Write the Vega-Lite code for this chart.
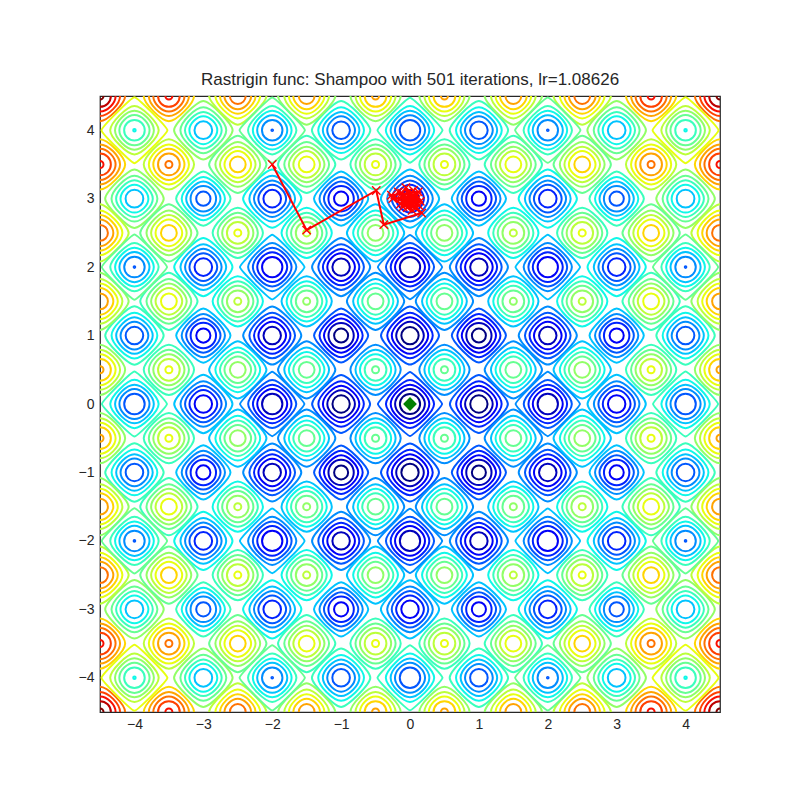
{
"$schema": "https://vega.github.io/schema/vega-lite/v6.json",
"width": 620,
"height": 616,
"autosize": {"type": "none"},
"padding": {"left": 100, "top": 96, "right": 80, "bottom": 88},
"background": "white",
"title": {"text": "Rastrigin func: Shampoo with 501 iterations, lr=1.08626", "font": "Liberation Sans", "fontSize": 17, "fontWeight": "normal", "color": "#262626", "offset": 7, "anchor": "middle"},
"config": {"view": {"stroke": "#262626", "strokeWidth": 1.25}, "font": "Liberation Sans"},
"datasets": {
"rings": [
{"q":0,"x":[0],"y":[0],"L":[4,8,12,16,20],"r":[0.147,0.217,0.281,0.35,0.467]},
{"q":1,"x":[1,-1,0,0],"y":[0,0,1,-1],"L":[4,8,12,16,20],"r":[0.126,0.201,0.265,0.331,0.422]},
{"q":2,"x":[1,1,-1,-1],"y":[1,-1,1,-1],"L":[4,8,12,16,20],"r":[0.102,0.184,0.249,0.314,0.394]},
{"q":4,"x":[2,-2,0,0],"y":[0,0,2,-2],"L":[8,12,16,20,24],"r":[0.148,0.218,0.281,0.35,0.468]},
{"q":5,"x":[2,2,-2,-2,1,1,-1,-1],"y":[1,-1,1,-1,2,-2,2,-2],"L":[8,12,16,20,24],"r":[0.127,0.201,0.265,0.332,0.423]},
{"q":8,"x":[2,2,-2,-2],"y":[2,-2,2,-2],"L":[12,16,20,24,28],"r":[0.148,0.218,0.282,0.351,0.47]},
{"q":9,"x":[3,-3,0,0],"y":[0,0,3,-3],"L":[12,16,20,24,28],"r":[0.127,0.202,0.266,0.332,0.424]},
{"q":10,"x":[3,3,-3,-3,1,1,-1,-1],"y":[1,-1,1,-1,3,-3,3,-3],"L":[12,16,20,24,28],"r":[0.103,0.185,0.25,0.315,0.395]},
{"q":13,"x":[3,3,-3,-3,2,2,-2,-2],"y":[2,-2,2,-2,3,-3,3,-3],"L":[16,20,24,28,32],"r":[0.128,0.202,0.266,0.333,0.424]},
{"q":16,"x":[4,-4,0,0],"y":[0,0,4,-4],"L":[20,24,28,32,36],"r":[0.149,0.219,0.282,0.352,0.473]},
{"q":17,"x":[4,4,-4,-4,1,1,-1,-1],"y":[1,-1,1,-1,4,-4,4,-4],"L":[20,24,28,32,36],"r":[0.128,0.202,0.266,0.333,0.425]},
{"q":18,"x":[3,3,-3,-3],"y":[3,-3,3,-3],"L":[20,24,28,32,36],"r":[0.104,0.186,0.25,0.315,0.396]},
{"q":20,"x":[4,4,-4,-4,2,2,-2,-2],"y":[2,-2,2,-2,4,-4,4,-4],"L":[20,24,28,32,36,40],"r":[0.012,0.149,0.219,0.282,0.352,0.475]},
{"q":25,"x":[4,4,-4,-4,3,3,-3,-3],"y":[3,-3,3,-3,4,-4,4,-4],"L":[28,32,36,40,44],"r":[0.129,0.203,0.267,0.334,0.426]},
{"q":32,"x":[4,4,-4,-4],"y":[4,-4,4,-4],"L":[32,36,40,44,48,52],"r":[0.018,0.15,0.22,0.283,0.353,0.48]},
{"q":0.5,"x":[0.5,0.5,-0.5,-0.5],"y":[0.5,-0.5,0.5,-0.5],"L":[24,28,32,36,40],"r":[0.366,0.292,0.227,0.158,0.051]},
{"q":2.5,"x":[1.5,1.5,-1.5,-1.5,0.5,0.5,-0.5,-0.5],"y":[0.5,-0.5,0.5,-0.5,1.5,-1.5,1.5,-1.5],"L":[24,28,32,36,40],"r":[0.417,0.326,0.259,0.194,0.115]},
{"q":4.5,"x":[1.5,1.5,-1.5,-1.5],"y":[1.5,-1.5,1.5,-1.5],"L":[28,32,36,40,44],"r":[0.366,0.292,0.227,0.158,0.051]},
{"q":6.5,"x":[2.5,2.5,-2.5,-2.5,0.5,0.5,-0.5,-0.5],"y":[0.5,-0.5,0.5,-0.5,2.5,-2.5,2.5,-2.5],"L":[28,32,36,40,44],"r":[0.417,0.326,0.259,0.194,0.115]},
{"q":8.5,"x":[2.5,2.5,-2.5,-2.5,1.5,1.5,-1.5,-1.5],"y":[1.5,-1.5,1.5,-1.5,2.5,-2.5,2.5,-2.5],"L":[32,36,40,44,48],"r":[0.366,0.292,0.227,0.158,0.051]},
{"q":12.5,"x":[3.5,3.5,-3.5,-3.5,0.5,0.5,-0.5,-0.5,2.5,2.5,-2.5,-2.5],"y":[0.5,-0.5,0.5,-0.5,3.5,-3.5,3.5,-3.5,2.5,-2.5,2.5,-2.5],"L":[36,40,44,48,52],"r":[0.366,0.292,0.227,0.158,0.051]},
{"q":14.5,"x":[3.5,3.5,-3.5,-3.5,1.5,1.5,-1.5,-1.5],"y":[1.5,-1.5,1.5,-1.5,3.5,-3.5,3.5,-3.5],"L":[36,40,44,48,52],"r":[0.417,0.326,0.259,0.194,0.115]},
{"q":18.5,"x":[3.5,3.5,-3.5,-3.5,2.5,2.5,-2.5,-2.5],"y":[2.5,-2.5,2.5,-2.5,3.5,-3.5,3.5,-3.5],"L":[40,44,48,52,56],"r":[0.417,0.326,0.259,0.194,0.115]},
{"q":20.5,"x":[4.5,4.5,-4.5,-4.5,0.5,0.5,-0.5,-0.5],"y":[0.5,-0.5,0.5,-0.5,4.5,-4.5,4.5,-4.5],"L":[44,48,52,56,60],"r":[0.366,0.292,0.227,0.158,0.051]},
{"q":22.5,"x":[4.5,4.5,-4.5,-4.5,1.5,1.5,-1.5,-1.5],"y":[1.5,-1.5,1.5,-1.5,4.5,-4.5,4.5,-4.5],"L":[44,48,52,56,60],"r":[0.417,0.326,0.259,0.194,0.115]},
{"q":24.5,"x":[3.5,3.5,-3.5,-3.5],"y":[3.5,-3.5,3.5,-3.5],"L":[48,52,56,60,64],"r":[0.366,0.292,0.227,0.158,0.051]},
{"q":26.5,"x":[4.5,4.5,-4.5,-4.5,2.5,2.5,-2.5,-2.5],"y":[2.5,-2.5,2.5,-2.5,4.5,-4.5,4.5,-4.5],"L":[48,52,56,60,64],"r":[0.417,0.326,0.259,0.194,0.115]},
{"q":32.5,"x":[4.5,4.5,-4.5,-4.5,3.5,3.5,-3.5,-3.5],"y":[3.5,-3.5,3.5,-3.5,4.5,-4.5,4.5,-4.5],"L":[56,60,64,68,72],"r":[0.366,0.292,0.227,0.158,0.051]},
{"q":40.5,"x":[4.5,4.5,-4.5,-4.5],"y":[4.5,-4.5,4.5,-4.5],"L":[64,68,72,76,80],"r":[0.366,0.292,0.227,0.158,0.051]}
],
"path": [
{"i":0,"x":-2.0,"y":3.5},{"i":1,"x":-1.5,"y":2.54},{"i":2,"x":-0.49,"y":3.12},{"i":3,"x":-0.38,"y":2.62},{"i":4,"x":0.17,"y":2.79},
{"i":5,"x":-0.12,"y":3.08},{"i":6,"x":0.08,"y":2.86},{"i":7,"x":-0.27,"y":3.05},{"i":8,"x":0.12,"y":3.1},{"i":9,"x":-0.1,"y":2.88},
{"i":10,"x":0.15,"y":2.96},{"i":11,"x":-0.06,"y":3.16},{"i":12,"x":0.03,"y":2.83},{"i":13,"x":-0.25,"y":3.0},{"i":14,"x":0.1,"y":3.04},
{"i":15,"x":-0.14,"y":2.92},{"i":16,"x":0.05,"y":3.12},{"i":17,"x":-0.04,"y":2.87},{"i":18,"x":0.13,"y":2.9},{"i":19,"x":-0.17,"y":3.1},
{"i":20,"x":0.0,"y":3.05},{"i":21,"x":-0.08,"y":2.93},{"i":22,"x":0.09,"y":2.99},{"i":23,"x":-0.12,"y":3.02},{"i":24,"x":0.04,"y":2.91},
{"i":25,"x":-0.03,"y":3.09},{"i":26,"x":0.07,"y":2.95},{"i":27,"x":-0.09,"y":2.97},{"i":28,"x":0.02,"y":3.03},{"i":29,"x":-0.05,"y":2.94},
{"i":30,"x":0.05,"y":3.0},{"i":31,"x":-0.06,"y":3.02},{"i":32,"x":0.03,"y":2.96},{"i":33,"x":-0.03,"y":2.99},{"i":34,"x":0.01,"y":2.98},
{"i":35,"x":-0.01,"y":2.98}
],
"mins": [{"x":0,"y":0}],
"last": [{"x":-0.01,"y":2.98}]
},
"encoding": {
"x": {"field": "x", "type": "quantitative", "scale": {"domain": [-4.5, 4.5], "nice": false, "zero": false},
 "axis": {"values": [-4,-3,-2,-1,0,1,2,3,4], "title": null, "grid": false, "ticks": false, "tickSize": 0, "domain": false, "labelFont": "Liberation Sans", "labelFontSize": 14, "labelColor": "#262626", "labelPadding": 5, "labelFlush": false, "labelOverlap": false}},
"y": {"field": "y", "type": "quantitative", "scale": {"domain": [-4.5, 4.5], "nice": false, "zero": false},
 "axis": {"values": [-4,-3,-2,-1,0,1,2,3,4], "title": null, "grid": false, "ticks": false, "tickSize": 0, "domain": false, "labelFont": "Liberation Sans", "labelFontSize": 14, "labelColor": "#262626", "labelPadding": 6, "labelFlush": false, "labelOverlap": false}}
},
"layer": [
{
"data": {"name": "rings"},
"transform": [{"flatten": ["x", "y"]}, {"flatten": ["L", "r"]}],
"encoding": {
 "color": {"field": "L", "type": "ordinal", "legend": null,
  "scale": {"domain": [4,8,12,16,20,24,28,32,36,40,44,48,52,56,60,64,68,72,76,80],
   "range": ["#000080","#0000BC","#0000F9","#0022FF","#0057FF","#008DFF","#00C3FF","#0FF8E8","#3AFFBC","#66FF91","#91FF66","#BCFF3A","#E8FF0F","#FFD500","#FFA300","#FF7200","#FF4000","#F90E00","#BC0000","#800000"]}},
 "size": {"field": "r", "type": "quantitative", "legend": null, "scale": {"type": "pow", "exponent": 2, "domain": [0, 1], "range": [0, 18880]}}
},
"layer": [
 {"transform": [{"filter": "datum.r < 0.19"}], "mark": {"type": "point", "shape": "circle", "filled": false, "strokeWidth": 2, "opacity": 1, "clip": true}},
 {"transform": [{"filter": "datum.r >= 0.19 && datum.r < 0.24"}], "mark": {"type": "point", "shape": "M1,0C1,0.47 0.47,1 0,1C-0.47,1 -1,0.47 -1,0C-1,-0.47 -0.47,-1 0,-1C0.47,-1 1,-0.47 1,0Z", "filled": false, "strokeWidth": 2, "opacity": 1, "clip": true}},
 {"transform": [{"filter": "datum.r >= 0.24 && datum.r < 0.30"}], "mark": {"type": "point", "shape": "M1,0C1,0.41 0.41,1 0,1C-0.41,1 -1,0.41 -1,0C-1,-0.41 -0.41,-1 0,-1C0.41,-1 1,-0.41 1,0Z", "filled": false, "strokeWidth": 2, "opacity": 1, "clip": true}},
 {"transform": [{"filter": "datum.r >= 0.30 && datum.r < 0.34"}], "mark": {"type": "point", "shape": "M1,0C1,0.35 0.35,1 0,1C-0.35,1 -1,0.35 -1,0C-1,-0.35 -0.35,-1 0,-1C0.35,-1 1,-0.35 1,0Z", "filled": false, "strokeWidth": 2, "opacity": 1, "clip": true}},
 {"transform": [{"filter": "datum.r >= 0.34 && datum.r < 0.38"}], "mark": {"type": "point", "shape": "M1,0C1,0.3 0.3,1 0,1C-0.3,1 -1,0.3 -1,0C-1,-0.3 -0.3,-1 0,-1C0.3,-1 1,-0.3 1,0Z", "filled": false, "strokeWidth": 2, "opacity": 1, "clip": true}},
 {"transform": [{"filter": "datum.r >= 0.38 && datum.r < 0.44"}], "mark": {"type": "point", "shape": "M1,0C1,0.22 0.22,1 0,1C-0.22,1 -1,0.22 -1,0C-1,-0.22 -0.22,-1 0,-1C0.22,-1 1,-0.22 1,0Z", "filled": false, "strokeWidth": 2, "opacity": 1, "clip": true}},
 {"transform": [{"filter": "datum.r >= 0.44"}], "mark": {"type": "point", "shape": "M1,0C1,0.09 0.09,1 0,1C-0.09,1 -1,0.09 -1,0C-1,-0.09 -0.09,-1 0,-1C0.09,-1 1,-0.09 1,0Z", "filled": false, "strokeWidth": 2, "opacity": 1, "clip": true}}
]
},
{"data": {"name": "path"}, "mark": {"type": "line", "color": "#ff0000", "strokeWidth": 2, "clip": true}, "encoding": {"order": {"field": "i", "type": "quantitative"}}},
{"data": {"name": "path"}, "mark": {"type": "point", "shape": "M-1,-1L1,1M-1,1L1,-1", "filled": false, "color": "#ff0000", "strokeWidth": 1.4, "size": 70, "opacity": 1}},
{"data": {"name": "mins"}, "mark": {"type": "point", "shape": "diamond", "filled": true, "color": "#008000", "size": 190, "opacity": 1}},
{"data": {"name": "last"}, "mark": {"type": "point", "shape": "diamond", "filled": true, "color": "#ff0000", "size": 190, "opacity": 1}}
]
}
